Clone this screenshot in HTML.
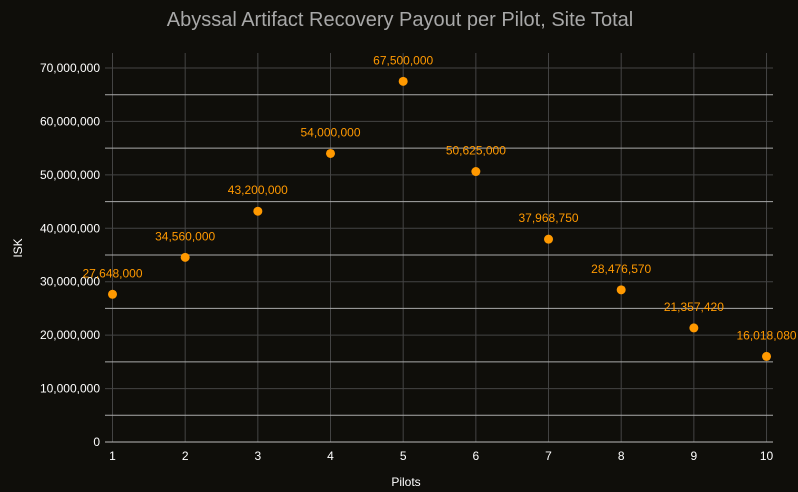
<!DOCTYPE html><html><head><style>body{margin:0;background:#0f0e0a}svg{display:block}text{font-family:"Liberation Sans",sans-serif}</style></head><body>
<svg width="798" height="492" xmlns="http://www.w3.org/2000/svg">
<rect width="798" height="492" fill="#0f0e0a"/>
<text x="400" y="26" text-anchor="middle" font-size="20" fill="#a8a8a8">Abyssal Artifact Recovery Payout per Pilot, Site Total</text>
<g id="g"></g>
<text x="406" y="486" text-anchor="middle" font-size="12" fill="#fff">Pilots</text>
<text transform="translate(22,248) rotate(-90)" text-anchor="middle" font-size="12" fill="#fff">ISK</text>
</svg>
<script>
const g=document.getElementById('g');let s='';
const X=i=>112.5+(i-1)*72.67, Y=v=>442-v/70e6*374;
for(let i=1;i<=10;i++){s+=`<line x1="${X(i)}" x2="${X(i)}" y1="53" y2="442" stroke="#444"/>`;
s+=`<text x="${X(i)}" y="460" text-anchor="middle" font-size="12" fill="#fff">${i}</text>`;}
for(let k=0;k<=7;k++){const y=Y(k*1e7);s+=`<line x1="105" x2="773" y1="${y}" y2="${y}" stroke="${k==0?'#bbb':'#444'}"/>`;
s+=`<text x="100" y="${y+4}" text-anchor="end" font-size="12" fill="#fff">${(k*1e7).toLocaleString('en-US')}</text>`;
if(k<7){const y2=Y(k*1e7+5e6);s+=`<line x1="105" x2="773" y1="${y2}" y2="${y2}" stroke="#aaa"/>`;}}
const d=[27648000,34560000,43200000,54000000,67500000,50625000,37968750,28476570,21357420,16018080];
d.forEach((v,i)=>{const x=X(i+1),y=Y(v);s+=`<circle cx="${x}" cy="${y}" r="4.5" fill="#ff9900"/>`;
s+=`<text x="${x}" y="${y-17}" text-anchor="middle" font-size="12" fill="#ff9900">${v.toLocaleString('en-US')}</text>`;});
g.innerHTML=s;
</script></body></html>
